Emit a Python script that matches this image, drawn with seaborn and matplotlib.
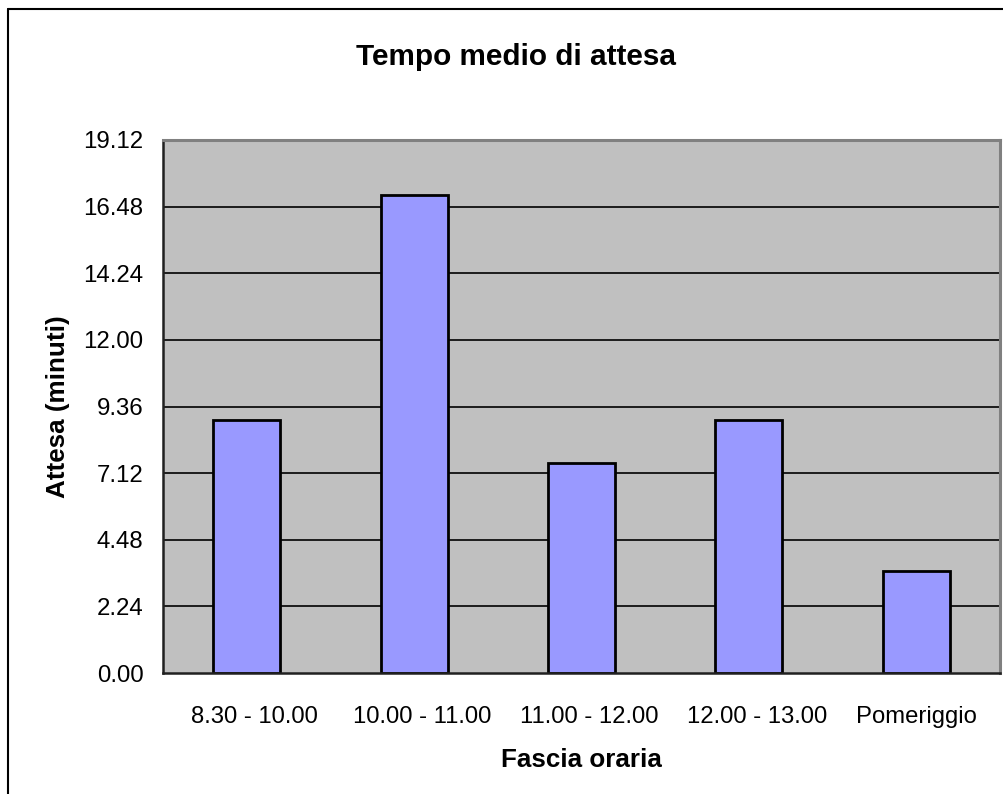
import matplotlib
matplotlib.use("Agg")
import matplotlib.pyplot as plt
from matplotlib.lines import Line2D
from matplotlib.transforms import ScaledTranslation
import seaborn as sns
import pandas as pd

# Average waiting time per time slot (minutes)
categories = ["8.30 - 10.00", "10.00 - 11.00", "11.00 - 12.00", "12.00 - 13.00", "Pomeriggio"]
wait_minutes = [9.13, 17.22, 7.58, 9.13, 3.67]

# Y axis ticks in minutes, labelled as minutes.seconds
ytick_values = [0.0, 2.4, 4.8, 7.2, 9.6, 12.0, 14.4, 16.8, 19.2]
ytick_labels = ["0.00", "2.24", "4.48", "7.12", "9.36", "12.00", "14.24", "16.48", "19.12"]

df = pd.DataFrame({"Fascia oraria": categories, "Attesa": wait_minutes})

sns.set_theme(style="white")
plt.rcParams["font.family"] = ["Liberation Sans", "DejaVu Sans"]
plt.rcParams["text.color"] = "black"
plt.rcParams["axes.labelcolor"] = "black"

W, H = 1004, 794
fig = plt.figure(figsize=(W / 100, H / 100), dpi=100)
ax = fig.add_axes([163 / W, 1 - 673 / H, (1000 - 163) / W, (673 - 140) / H])
ax.set_facecolor("#C0C0C0")

# horizontal gridlines behind the bars
for v in ytick_values[1:-1]:
    ax.axhline(v, color="black", lw=1.2, zorder=0)

sns.barplot(data=df, x="Fascia oraria", y="Attesa", ax=ax, color="#9999FF",
            saturation=1, width=0.4, edgecolor="black", linewidth=2, zorder=2)

ax.set_xlim(-0.5, len(categories) - 0.5)
ax.set_ylim(0, 19.2)
ax.set_yticks(ytick_values)
ax.set_yticklabels(ytick_labels, fontsize=17.3, color="black")

# category ticks between the bars, labels centred under each bar
ax.set_xticks([i - 0.5 for i in range(len(categories) + 1)])
ax.set_xticklabels([])
ax.set_xticks(range(len(categories)), minor=True)
ax.set_xticklabels(categories, minor=True, fontsize=17.2, color="black")
ax.tick_params(axis="x", which="minor", length=0, pad=24)
ax.tick_params(axis="x", which="major", length=8, width=1.5, color="#606060", direction="out")
ax.tick_params(axis="y", length=8, width=1.5, color="#404040", direction="out", pad=6)

# time-range labels sit a little to the right of the bar centres
shift = ScaledTranslation(8 / 100, 0, fig.dpi_scale_trans)
for lbl in ax.get_xticklabels(minor=True)[:-1]:
    lbl.set_transform(lbl.get_transform() + shift)

ax.set_xlabel("Fascia oraria", fontsize=18.7, fontweight="bold", labelpad=14, color="black")
ax.set_ylabel("Attesa (minuti)", fontsize=18.7, fontweight="bold", labelpad=10, color="black")

for side in ("left", "bottom"):
    ax.spines[side].set_color("#202020")
    ax.spines[side].set_linewidth(1.8)
for side in ("top", "right"):
    ax.spines[side].set_color("#808080")
    ax.spines[side].set_linewidth(2.2)
    ax.spines[side].set_visible(True)

fig.text(516.5 / W, 1 - 57 / H, "Tempo medio di attesa", ha="center", va="center",
         fontsize=21.4, fontweight="bold", color="black")

# chart frame (top and left edges)
fig.add_artist(Line2D([8 / W, 1.01], [1 - 9 / H, 1 - 9 / H], transform=fig.transFigure,
                      color="black", lw=1.5))
fig.add_artist(Line2D([8 / W, 8 / W], [1 - 9 / H, -0.01], transform=fig.transFigure,
                      color="black", lw=1.5))

fig.savefig("out.png", dpi=100, facecolor="white")
